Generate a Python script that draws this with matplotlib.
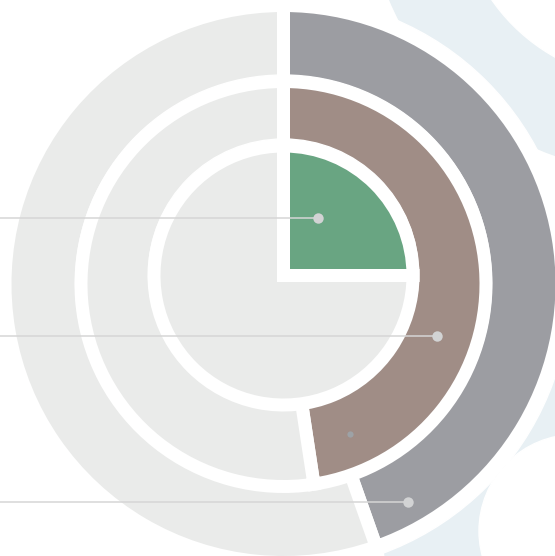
import matplotlib
matplotlib.use("Agg")
import matplotlib.pyplot as plt
from matplotlib.patches import Circle

W, H = 555, 556

# ring values (percent of a full turn), inner -> outer
ring_names = ["inner", "middle", "outer"]
ring_values = [25.0, 47.6, 44.6]
ring_colors = ["#69a582", "#a08d86", "#9c9da2"]
track_color = "#eaebea"

# label anchor points (dots) and the guide lines leading to them
dot_x = [318, 437, 408]
dot_y = [218, 336, 502]

GAP = 13  # white gap between pieces, px
lw = GAP * 72 / 100.0


def Y(y):
    return H - y


fig = plt.figure(figsize=(W / 100, H / 100), dpi=100)
ax = fig.add_axes([0, 0, 1, 1])
fig.patch.set_facecolor("white")

# decorative background circles
blue = "#e8f0f4"
ax.add_patch(Circle((647, Y(-108)), 279, color=blue, zorder=0))
ax.add_patch(Circle((647, Y(-108)), 189, color="white", zorder=0.1))
ax.add_patch(Circle((575.5, Y(531)), 192, color=blue, zorder=0))
ax.add_patch(Circle((575.5, Y(531)), 96.5, color="white", zorder=0.1))

cx = 283.5
# white halo round the chart
ax.add_patch(Circle((cx, Y(284)), 287, color="white", zorder=1))


def ring(value, color, center, radius, z):
    wedges, _ = ax.pie([value, 100 - value], colors=[color, track_color],
                       radius=radius + GAP / 2, center=center,
                       startangle=90, counterclock=False,
                       wedgeprops=dict(edgecolor="white", linewidth=lw),
                       normalize=True)
    for w in wedges:
        w.set_zorder(z)


ring(ring_values[2], ring_colors[2], (cx, Y(284)), 272, 2)
ax.add_patch(Circle((cx, Y(283)), 208, color="white", zorder=3))
ring(ring_values[1], ring_colors[1], (cx, Y(284)), 196, 4)
ax.add_patch(Circle((cx, Y(274)), 135, color="white", zorder=5))
ring(ring_values[0], ring_colors[0], (cx, Y(275.5)), 123, 6)

# guide lines and dots
for x, y in zip(dot_x, dot_y):
    ax.plot([0, x], [Y(y), Y(y)], color="#d6d6d6", lw=1.1, zorder=7,
            solid_capstyle="butt")
    ax.plot(x, Y(y), "o", ms=7.5, color="#d2d3d4", mec="none", zorder=8)
ax.plot(350, Y(434), "o", ms=4.5, color="#9da2a6", mec="none", zorder=8)

ax.set_xlim(0, W)
ax.set_ylim(0, H)
ax.set_aspect("equal")
ax.axis("off")

fig.savefig("out.png", dpi=100, facecolor="white")
